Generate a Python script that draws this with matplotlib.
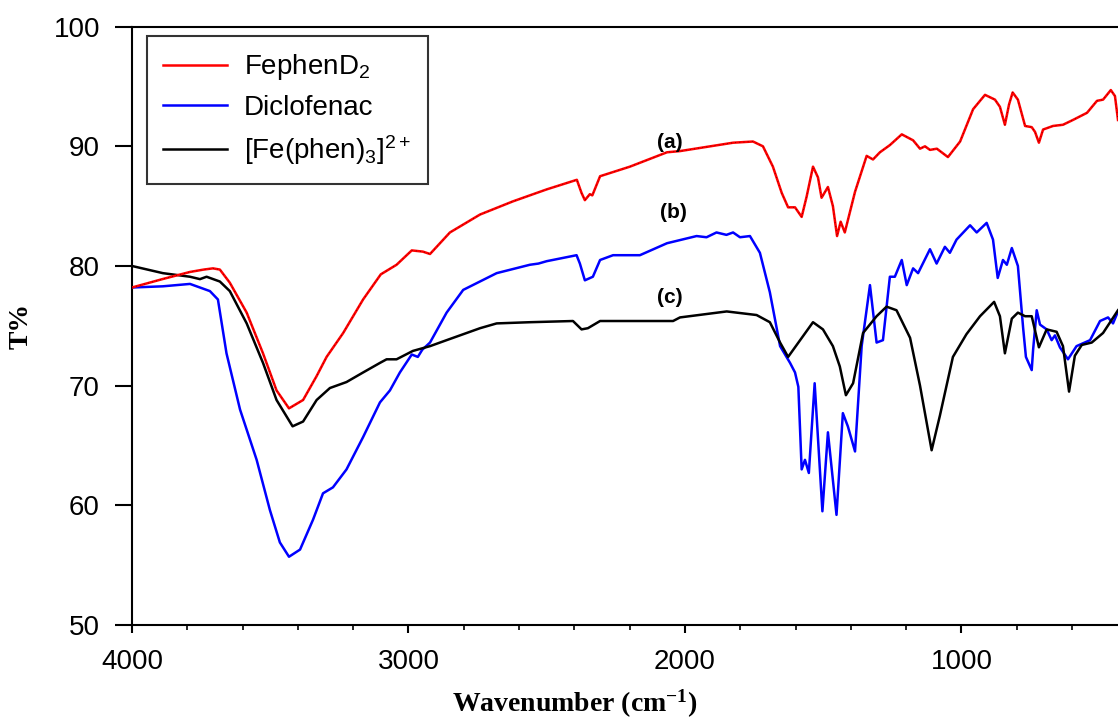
import numpy as np
import matplotlib.pyplot as plt

plt.rcParams['font.family'] = ['Liberation Sans', 'DejaVu Sans']
plt.rcParams['mathtext.default'] = 'regular'

# FT-IR spectra, wavenumber (cm-1) vs transmittance (%)
fephen_wn = [4000, 3890, 3790, 3740, 3707, 3682, 3646, 3585, 3526, 3477, 3432, 3381,
             3332, 3296, 3236, 3164, 3100, 3043, 2988, 2948, 2922, 2850, 2741, 2622,
             2500, 2391, 2374, 2362, 2344, 2335, 2307, 2199, 2065, 2018, 1826, 1754,
             1718, 1682, 1650, 1627, 1602, 1578, 1560, 1537, 1519, 1506, 1483, 1465,
             1450, 1437, 1422, 1385, 1343, 1320, 1295, 1259, 1216, 1175, 1150, 1132,
             1114, 1089, 1049, 1005, 958, 915, 879, 861, 843, 828, 815, 796, 770, 746,
             734, 720, 705, 669, 633, 597, 546, 510, 488, 460, 445, 434]
fephen_t = [78.2, 78.9, 79.5, 79.7, 79.8, 79.7, 78.6, 76.1, 72.7, 69.6, 68.1, 68.8,
            70.8, 72.4, 74.4, 77.2, 79.3, 80.1, 81.3, 81.2, 81.0, 82.8, 84.3, 85.4,
            86.4, 87.2, 86.1, 85.5, 86.0, 85.9, 87.5, 88.3, 89.5, 89.6, 90.3, 90.4,
            90.0, 88.3, 86.1, 84.9, 84.9, 84.1, 85.8, 88.3, 87.4, 85.7, 86.6, 85.0,
            82.5, 83.7, 82.8, 86.2, 89.2, 88.9, 89.5, 90.1, 91.0, 90.5, 89.8, 90.0,
            89.7, 89.8, 89.1, 90.4, 93.1, 94.3, 93.9, 93.3, 91.8, 93.5, 94.5, 93.9,
            91.7, 91.6, 91.2, 90.3, 91.4, 91.7, 91.8, 92.2, 92.8, 93.8, 93.9, 94.7,
            94.2, 92.2]

diclo_wn = [4000, 3888, 3790, 3718, 3689, 3658, 3609, 3549, 3501, 3465, 3432, 3392,
            3345, 3309, 3273, 3224, 3164, 3103, 3067, 3031, 2988, 2966, 2950, 2922,
            2862, 2802, 2681, 2561, 2530, 2500, 2392, 2380, 2362, 2333, 2307, 2260,
            2163, 2065, 1958, 1922, 1886, 1850, 1826, 1801, 1765, 1729, 1693, 1656,
            1620, 1602, 1590, 1578, 1566, 1552, 1531, 1503, 1483, 1452, 1429, 1411,
            1385, 1361, 1331, 1307, 1284, 1259, 1241, 1216, 1198, 1175, 1157, 1114,
            1090, 1060, 1042, 1018, 969, 945, 909, 886, 869, 850, 836, 818, 796, 777,
            767, 746, 741, 728, 716, 692, 674, 662, 644, 615, 584, 535, 499, 470,
            452, 434]
diclo_t = [78.2, 78.3, 78.5, 77.9, 77.2, 72.7, 68.0, 63.8, 59.6, 56.9, 55.7, 56.3,
           58.8, 61.0, 61.5, 63.0, 65.7, 68.6, 69.6, 71.1, 72.6, 72.4, 73.0, 73.6,
           76.1, 78.0, 79.4, 80.1, 80.2, 80.4, 80.9, 80.2, 78.8, 79.1, 80.5, 80.9,
           80.9, 81.9, 82.5, 82.4, 82.8, 82.6, 82.8, 82.4, 82.5, 81.1, 77.8, 73.3,
           71.9, 71.1, 69.9, 63.0, 63.8, 62.7, 70.2, 59.5, 66.1, 59.2, 67.7, 66.6,
           64.5, 73.3, 78.4, 73.6, 73.8, 79.1, 79.1, 80.5, 78.4, 79.8, 79.4, 81.4,
           80.2, 81.6, 81.1, 82.2, 83.4, 82.8, 83.6, 82.2, 79.0, 80.5, 80.1, 81.5,
           80.0, 74.8, 72.4, 71.3, 73.0, 76.3, 75.1, 74.7, 73.8, 74.2, 73.2, 72.2,
           73.3, 73.8, 75.4, 75.7, 75.2, 76.2]

fephen3_wn = [4000, 3888, 3790, 3754, 3730, 3682, 3646, 3585, 3526, 3477, 3419, 3381,
              3332, 3284, 3224, 3164, 3103, 3079, 3043, 2984, 2922, 2862, 2741, 2681,
              2561, 2405, 2374, 2351, 2307, 2139, 2043, 2018, 1849, 1741, 1693, 1656,
              1627, 1596, 1537, 1501, 1465, 1440, 1418, 1392, 1356, 1307, 1271, 1235,
              1186, 1150, 1108, 1078, 1031, 982, 933, 882, 861, 843, 818, 796, 770,
              746, 720, 692, 656, 633, 611, 590, 565, 529, 488, 434]
fephen3_t = [80.0, 79.4, 79.1, 78.9, 79.1, 78.7, 77.9, 75.2, 71.9, 68.8, 66.6, 67.0,
             68.8, 69.8, 70.3, 71.1, 71.9, 72.2, 72.2, 72.9, 73.3, 73.8, 74.8, 75.2,
             75.3, 75.4, 74.7, 74.8, 75.4, 75.4, 75.4, 75.7, 76.2, 75.9, 75.3, 73.6,
             72.4, 73.4, 75.3, 74.7, 73.3, 71.6, 69.2, 70.2, 74.4, 75.8, 76.6, 76.3,
             74.0, 70.0, 64.6, 67.5, 72.4, 74.3, 75.8, 77.0, 75.8, 72.7, 75.6, 76.1,
             75.8, 75.8, 73.2, 74.7, 74.5, 73.3, 69.5, 72.5, 73.4, 73.6, 74.4, 76.3]

fig = plt.figure(figsize=(11.18, 7.2), dpi=100)
ax = fig.add_axes([0.118, 0.132, 0.882, 0.831])

ax.plot(fephen_wn, fephen_t, color='red', lw=1.8, label='FephenD$_2$', zorder=3)
ax.plot(fephen_wn, fephen_t, color='black', lw=0.6, ls=(0, (1, 4)), alpha=0.6, zorder=4)
ax.plot(diclo_wn, diclo_t, color='blue', lw=1.8, label='Diclofenac', zorder=2)
ax.plot(fephen3_wn, fephen3_t, color='black', lw=1.8, label='[Fe(phen)$_3$]$^{2+}$', zorder=2)

ax.text(2054, 90.3, '(a)', fontsize=15, fontweight='bold', ha='center', va='center')
ax.text(2043, 84.5, '(b)', fontsize=15, fontweight='bold', ha='center', va='center')
ax.text(2054, 77.4, '(c)', fontsize=15, fontweight='bold', ha='center', va='center')

ax.set_xlim(4000, 434)
ax.set_ylim(50, 100)
ax.set_xticks([4000, 3000, 2000, 1000])
ax.set_xticks(np.arange(4000, 400, -200), minor=True)
ax.set_yticks(np.arange(50, 101, 10))
ax.tick_params(axis='x', which='major', direction='out', length=6, width=1.5,
               labelsize=20, pad=11)
ax.tick_params(axis='y', which='major', direction='out', length=12, width=1.5,
               labelsize=20, pad=11)
ax.tick_params(axis='x', which='minor', direction='out', length=3.5, width=1.2)
for side in ['left', 'bottom', 'top']:
    ax.spines[side].set_linewidth(1.5)
ax.spines['right'].set_visible(False)

ax.set_xlabel('Wavenumber (cm$^{-1}$)', family='Liberation Serif', fontweight='bold',
              fontsize=20)
ax.xaxis.set_label_coords(0.449, -0.105)
ax.set_ylabel('T%', family='Liberation Serif', fontweight='bold', fontsize=20)
ax.yaxis.set_label_coords(-0.1, 0.5)

leg = ax.legend(loc='upper left', bbox_to_anchor=(0.015, 0.985), borderaxespad=0,
                fontsize=20, frameon=True, fancybox=False, edgecolor='black',
                handlelength=2.3, handletextpad=0.6, labelspacing=0.45, borderpad=0.6)
leg.get_frame().set_linewidth(1.5)

fig.savefig('out.png', dpi=100)
